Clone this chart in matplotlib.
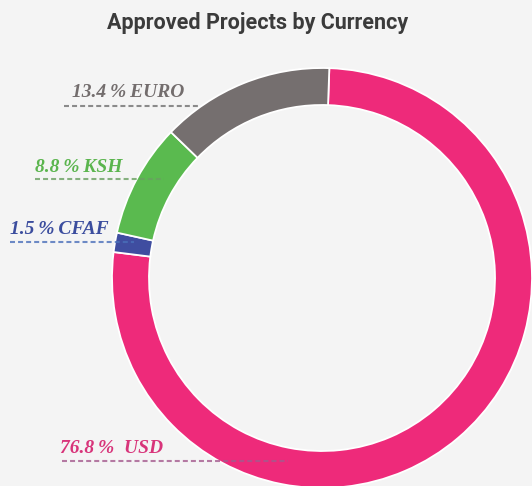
import matplotlib.pyplot as plt

# data
currencies = ['USD', 'CFAF', 'KSH', 'EURO']
shares = [76.8, 1.5, 8.8, 13.4]
ring_colors = ['#ee2a7a', '#3f4da0', '#5aba4f', '#756f6f']
text_colors = ['#d8347a', '#3b4d9e', '#5bb54e', '#736d6d']
line_colors = ['#a45a8e', '#4a6fba', '#6a9f61', '#707070']
label_texts = ['%.1f\u2009%%  %s', '%.1f\u2009%%\u2009%s', '%.1f\u2009%%\u2009%s', '%.1f\u2009%%\u2009%s']

# label layout in pixels (x text, baseline y, dash start, dash end, dash y)
label_x = [60, 10, 35, 72]
label_base = [453, 234, 172, 97]
dash_x0 = [62, 10, 35, 64]
dash_x1 = [288, 134, 164, 199]
dash_y = [461, 242, 179, 106]

W, H = 532, 486
plt.rcParams['lines.scale_dashes'] = False
fig = plt.figure(figsize=(W / 100, H / 100), dpi=100)
fig.patch.set_facecolor('#f4f4f4')
ax = fig.add_axes([0, 0, 1, 1])
ax.set_facecolor('#f4f4f4')

ax.pie(shares, colors=ring_colors, startangle=88, counterclock=False,
       radius=210, center=(322, H - 278),
       wedgeprops=dict(width=37, edgecolor='white', linewidth=1.3))

for i in range(len(currencies)):
    ax.plot([dash_x0[i], dash_x1[i]], [H - dash_y[i], H - dash_y[i]],
            color=line_colors[i], lw=1.5, alpha=0.8,
            linestyle=(0, (3.6, 2.2)), zorder=5)
    ax.text(label_x[i], H - label_base[i], label_texts[i] % (shares[i], currencies[i]),
            color=text_colors[i], fontsize=14, family='Liberation Serif',
            weight='bold', style='italic', va='baseline', ha='left', zorder=6)

ax.text(258, H - 29.5, 'Approved Projects by Currency', ha='center', va='baseline',
        fontsize=15.5, family='Roboto', weight='bold', color='#3b3b3b')

ax.set_xlim(0, W)
ax.set_ylim(0, H)
ax.set_aspect('auto')
ax.axis('off')
fig.savefig('out.png', dpi=100, facecolor=fig.get_facecolor())
